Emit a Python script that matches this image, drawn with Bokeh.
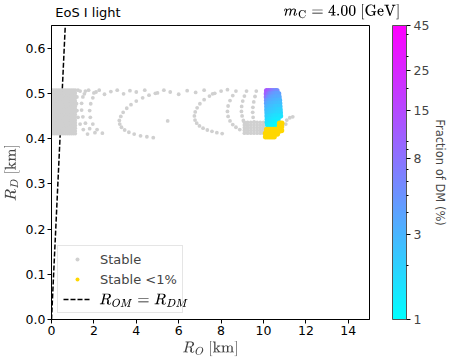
import numpy as np
from bokeh.plotting import figure
from bokeh.models import (ColumnDataSource, LogColorMapper, ColorBar, FixedTicker, LinearAxis,
                          PrintfTickFormatter, Label, Legend, LegendItem, Title, Range1d)
from bokeh.embed import file_html
from bokeh.resources import INLINE

# ---------------- data ----------------
# dense block of stable configurations near R_O ~ 0-1.2 km
BLOCK_X = [0.04, 0.13, 0.22, 0.31, 0.40, 0.49, 0.58, 0.67, 0.76, 0.85, 0.94, 1.03, 1.12]
BLOCK_Y = [0.411, 0.417, 0.423, 0.429, 0.435, 0.441, 0.447, 0.453, 0.459, 0.465, 0.471,
           0.477, 0.483, 0.489, 0.495, 0.501, 0.507]

# arcs next to the block
ARC_N1_X = [1.25, 1.2, 1.18, 1.2, 1.25, 1.35, 1.5, 1.7]
ARC_N1_Y = [0.507, 0.492, 0.477, 0.462, 0.447, 0.432, 0.42, 0.41]
ARC_N2_X = [1.6, 1.48, 1.42, 1.42, 1.48, 1.6, 1.8, 2.05]
ARC_N2_Y = [0.505, 0.492, 0.478, 0.463, 0.448, 0.434, 0.422, 0.413]
ARC_N3_X = [2.1, 1.95, 1.85, 1.8, 1.83, 1.95, 2.15, 2.4]
ARC_N3_Y = [0.503, 0.49, 0.477, 0.462, 0.447, 0.432, 0.42, 0.412]

# scattered points along the upper edge
TOP_X = [1.35, 1.55, 1.75, 2.0, 2.25, 2.5, 2.8, 3.1, 3.4, 3.7, 4.0, 4.4, 5.0, 5.3, 5.6, 6.0,
         6.4, 6.8, 7.2, 7.6, 8.0, 8.3]
TOP_Y = [0.505, 0.499, 0.507, 0.501, 0.507, 0.498, 0.504, 0.507, 0.499, 0.506, 0.503, 0.507,
         0.501, 0.507, 0.503, 0.498, 0.506, 0.502, 0.507, 0.499, 0.505, 0.508]

# C-shaped arcs
ARC_A_X = [4.9, 4.6, 4.3, 4.0, 3.75, 3.55, 3.38, 3.27, 3.2, 3.22, 3.3, 3.45, 3.65, 3.9, 4.2, 4.5, 4.8]
ARC_A_Y = [0.500, 0.496, 0.490, 0.483, 0.475, 0.467, 0.458, 0.449, 0.440, 0.432, 0.425, 0.419,
           0.414, 0.410, 0.406, 0.404, 0.402]
ARC_B_X = [7.7, 7.45, 7.2, 7.0, 6.87, 6.78, 6.74, 6.77, 6.85, 6.98, 7.15, 7.35, 7.57, 7.8, 8.05]
ARC_B_Y = [0.500, 0.494, 0.486, 0.477, 0.468, 0.459, 0.450, 0.441, 0.434, 0.428, 0.423, 0.419,
           0.416, 0.413, 0.411]
ARC_C1_X = [8.7, 8.55, 8.42, 8.33, 8.3, 8.33, 8.42, 8.55, 8.7, 8.88]
ARC_C1_Y = [0.505, 0.495, 0.484, 0.472, 0.46, 0.449, 0.439, 0.431, 0.425, 0.42]
ARC_C2_X = [9.2, 9.1, 9.02, 8.97, 8.96, 8.99, 9.05, 9.14, 9.25]
ARC_C2_Y = [0.505, 0.494, 0.483, 0.471, 0.46, 0.45, 0.44, 0.432, 0.425]
ARC_C3_X = [9.66, 9.6, 9.54, 9.5, 9.49, 9.51, 9.56]
ARC_C3_Y = [0.505, 0.493, 0.481, 0.469, 0.458, 0.447, 0.437]

# grey cluster under the coloured region
LOW_X = [9.1, 9.25, 9.4, 9.55, 9.7, 9.85, 10.0]
LOW_Y = [0.412, 0.418, 0.424, 0.430, 0.436]

# isolated points
STRAY_X = [5.48, 10.9, 11.05, 11.1, 11.24, 11.38]
STRAY_Y = [0.439, 0.430, 0.432, 0.441, 0.446, 0.448]

# coloured (fraction of DM, %) configurations
DM_ROWS_Y = [0.506, 0.499, 0.492, 0.485, 0.478, 0.471, 0.464, 0.457, 0.450, 0.443, 0.436, 0.430]
DM_ROWS_X = [
    [10.15, 10.25, 10.35, 10.45, 10.55, 10.63],
    [10.14, 10.24, 10.34, 10.44, 10.54, 10.64, 10.71],
    [10.14, 10.24, 10.34, 10.44, 10.54, 10.64, 10.73],
    [10.15, 10.25, 10.35, 10.45, 10.55, 10.65, 10.75],
    [10.15, 10.25, 10.35, 10.45, 10.55, 10.65, 10.76],
    [10.16, 10.26, 10.36, 10.46, 10.56, 10.66, 10.77],
    [10.16, 10.26, 10.36, 10.46, 10.56, 10.66, 10.78],
    [10.17, 10.27, 10.37, 10.47, 10.57, 10.67, 10.79],
    [10.17, 10.27, 10.37, 10.47, 10.57, 10.67, 10.8],
    [10.18, 10.28, 10.38, 10.48, 10.58, 10.68],
    [10.18, 10.28, 10.38, 10.48, 10.58, 10.68],
    [10.2, 10.3, 10.4, 10.5, 10.6, 10.68],
]
DM_ROWS_F = [
    [12, 11, 9, 7, 6, 5.5],
    [11, 8, 6, 5, 4.5, 4.2, 4.2],
    [8, 5.5, 4.5, 4, 3.8, 3.6, 3.6],
    [5, 4, 3.6, 3.4, 3.2, 3.1, 3.0],
    [4, 3.4, 3.1, 2.9, 2.8, 2.7, 2.6],
    [3.2, 2.9, 2.7, 2.6, 2.4, 2.3, 2.3],
    [2.8, 2.5, 2.4, 2.3, 2.2, 2.1, 2.0],
    [2.4, 2.2, 2.1, 2.0, 1.9, 1.8, 1.8],
    [2.1, 1.9, 1.8, 1.7, 1.6, 1.6, 1.5],
    [1.8, 1.7, 1.6, 1.5, 1.45, 1.4],
    [1.6, 1.5, 1.4, 1.3, 1.25, 1.2],
    [1.35, 1.3, 1.2, 1.15, 1.1, 1.05],
]

# stable configurations with < 1 % of DM
GOLD_X = [10.1, 10.2, 10.3, 10.4, 10.5, 10.1, 10.2, 10.3, 10.4, 10.5, 10.15, 10.25, 10.35,
          10.45, 10.55, 10.75, 10.85, 10.75, 10.85, 10.76, 10.86, 10.65, 10.7]
GOLD_Y = [0.404, 0.404, 0.404, 0.404, 0.404, 0.412, 0.412, 0.412, 0.412, 0.412, 0.420, 0.420,
          0.420, 0.420, 0.420, 0.418, 0.418, 0.426, 0.426, 0.434, 0.434, 0.410, 0.415]

# R_OM = R_DM line
LINE_X = [0.0, 0.7]
LINE_Y = [0.0, 0.7]

X_TICKS = [0, 2, 4, 6, 8, 10, 12, 14]
Y_TICKS = [0.0, 0.1, 0.2, 0.3, 0.4, 0.5, 0.6]
CB_TICKS = [1, 3, 8, 15, 25, 45]
CB_MINOR = [2, 4, 5, 6, 7, 9, 10, 20, 30, 40]

TITLE_LEFT = "EoS I light"
TITLE_RIGHT = r"$$m_\mathrm{C} = 4.00 \text{ [GeV]}$$"

# ---------------- assemble sources ----------------
grey_x, grey_y = [], []
for bx in BLOCK_X:
    for by in BLOCK_Y:
        grey_x.append(bx)
        grey_y.append(by)
for lx in LOW_X:
    for ly in LOW_Y:
        grey_x.append(lx)
        grey_y.append(ly)
for xs, ys in [(ARC_N1_X, ARC_N1_Y), (ARC_N2_X, ARC_N2_Y), (ARC_N3_X, ARC_N3_Y),
               (TOP_X, TOP_Y), (ARC_A_X, ARC_A_Y), (ARC_B_X, ARC_B_Y),
               (ARC_C1_X, ARC_C1_Y), (ARC_C2_X, ARC_C2_Y), (ARC_C3_X, ARC_C3_Y),
               (STRAY_X, STRAY_Y)]:
    grey_x += xs
    grey_y += ys

dm_x, dm_y, dm_f = [], [], []
for ry, rxs, rfs in zip(DM_ROWS_Y, DM_ROWS_X, DM_ROWS_F):
    for rx, rf in zip(rxs, rfs):
        dm_x.append(rx)
        dm_y.append(ry)
        dm_f.append(rf)

grey_src = ColumnDataSource(dict(x=grey_x, y=grey_y))
dm_src = ColumnDataSource(dict(x=dm_x, y=dm_y, f=dm_f))
gold_src = ColumnDataSource(dict(x=GOLD_X, y=GOLD_Y))

# matplotlib "cool" colormap
cool = ["#%02x%02x%02x" % (int(round(255 * t)), int(round(255 * (1 - t))), 255)
        for t in np.linspace(0, 1, 256)]
mapper = LogColorMapper(palette=cool, low=1, high=45)

FONT = "DejaVu Sans"

p = figure(width=449, height=359, output_backend="svg", toolbar_location=None,
           x_range=Range1d(0, 15), y_range=Range1d(0, 0.65),
           min_border_left=2, min_border_right=77, min_border_top=21, min_border_bottom=2)
p.background_fill_color = "white"
p.border_fill_color = "white"
p.outline_line_color = "black"
p.outline_line_width = 1
p.xgrid.visible = False
p.ygrid.visible = False

line_r = p.line(LINE_X, LINE_Y, line_dash="5 2", line_width=1.5, color="black")
grey_r = p.scatter("x", "y", source=grey_src, size=3.8, color="#d0d0d0", line_color=None)
dm_r = p.scatter("x", "y", source=dm_src, size=5.5, line_color=None,
                 fill_color={"field": "f", "transform": mapper})
gold_r = p.scatter("x", "y", source=gold_src, size=5.5, color="#ffd700", line_color=None)

for ax in (p.xaxis, p.yaxis):
    ax.major_tick_in = 0
    ax.major_tick_out = 4
    ax.minor_tick_line_color = None
    ax.axis_line_color = "black"
    ax.major_label_text_font = FONT
    ax.major_label_text_font_size = "12.5px"
    ax.major_label_text_color = "black"
    ax.axis_label_text_font = FONT
    ax.axis_label_text_font_size = "13px"
    ax.axis_label_text_font_style = "normal"
    ax.major_label_standoff = 2
    ax.axis_label_standoff = 3

p.xaxis.ticker = FixedTicker(ticks=X_TICKS)
p.yaxis.ticker = FixedTicker(ticks=Y_TICKS)
p.yaxis.formatter = PrintfTickFormatter(format="%.1f")
p.xaxis.axis_label = r"$$R_O \text{ [km]}$$"
p.yaxis.axis_label = r"$$R_D \text{ [km]}$$"

# the two titles above the frame, drawn as labels of an invisible top axis
title_axis = LinearAxis(ticker=FixedTicker(ticks=[1.72, 13.7]),
                        major_label_overrides={1.72: TITLE_LEFT, 13.7: TITLE_RIGHT},
                        axis_line_color=None, major_tick_line_color=None,
                        minor_tick_line_color=None, major_tick_out=0, major_tick_in=0,
                        major_label_standoff=6, major_label_text_font=FONT,
                        major_label_text_font_size="13px", major_label_text_color="black")
p.add_layout(title_axis, "above")

legend = Legend(items=[LegendItem(label="Stable", renderers=[grey_r]),
                       LegendItem(label="Stable <1%", renderers=[gold_r]),
                       LegendItem(label=" ", renderers=[line_r])],
                location="bottom_left", margin=6, padding=5, spacing=4,
                label_text_font=FONT, label_text_font_size="13px",
                glyph_width=28, glyph_height=10, label_height=16, label_width=75,
                label_standoff=9,
                border_line_color="#cccccc", background_fill_alpha=0.0)
p.add_layout(legend)
# third legend entry text (math), placed on the legend row
p.add_layout(Label(x=2.25, y=0.041, text=r"$$R_{OM} = R_{DM}$$", text_font=FONT,
                   text_font_size="13px", text_baseline="middle", text_align="left",
                   text_color="black", level="overlay"))

# blank spacer between the frame and the colour bar
p.add_layout(Title(text=" ", text_font_size="15px", standoff=4), "right")

cb = ColorBar(color_mapper=mapper, ticker=FixedTicker(ticks=CB_TICKS, minor_ticks=CB_MINOR),
              formatter=PrintfTickFormatter(format="%d"), width=14, padding=0, margin=0,
              major_tick_out=4, major_tick_in=0, minor_tick_out=2, minor_tick_in=0,
              major_tick_line_color="black", minor_tick_line_color="black",
              bar_line_color="#555555", label_standoff=3,
              major_label_text_font=FONT, major_label_text_font_size="12.5px")
p.add_layout(cb, "right")
p.add_layout(Title(text="Fraction of DM (%)", align="center", text_font=FONT,
                   text_font_size="11.5px", text_font_style="normal", standoff=1), "right")

open("out.html", "w").write(file_html(p, INLINE))
